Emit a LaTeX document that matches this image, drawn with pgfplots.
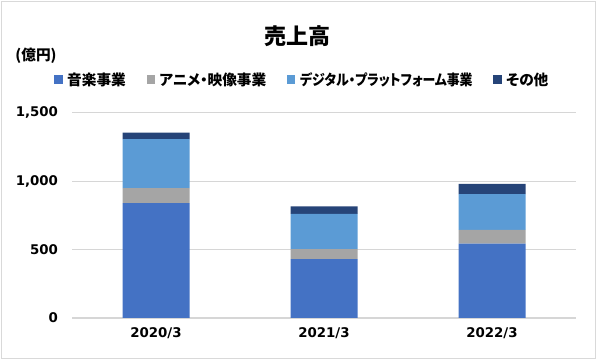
\documentclass[border=0pt]{standalone}
\usepackage{pgfplots}
\pgfplotsset{compat=1.18}
\usepackage{fontspec}
\setmainfont{DejaVu Sans}
\newfontfamily\jp{Noto Sans CJK JP}
\newfontfamily\jpp{Noto Sans CJK JP}[RawFeature=+palt]
\definecolor{cMusic}{HTML}{4472C4}
\definecolor{cAnime}{HTML}{A5A5A5}
\definecolor{cDigital}{HTML}{5B9BD5}
\definecolor{cOther}{HTML}{264478}
\begin{document}
\begin{tikzpicture}
\useasboundingbox (0,0) rectangle (447.75pt,270pt);
\draw[color=black!15, line width=0.75pt] (1.2pt,1.2pt) rectangle (446.5pt,268.8pt);
\node[font=\jp\bfseries\fontsize{16.5}{18}\selectfont] at (223pt,242.5pt) {売上高};
\node[font=\jpp\bfseries\fontsize{11}{13}\selectfont] at (27pt,228.5pt) {(億円)};
\begin{axis}[
  at={(54pt,31.5pt)}, anchor=south west,
  scale only axis, width=378pt, height=154pt,
  ybar stacked, bar width=50.25pt,
  xmin=-0.5, xmax=2.5, ymin=0, ymax=1500,
  xtick={0,1,2}, xticklabels={2020/3,2021/3,2022/3},
  ytick={0,500,1000,1500},
  /pgf/number format/assume math mode=true,
  /pgf/number format/1000 sep={,},
  scaled y ticks=false,
  axis line style={draw=none},
  major tick length=0pt,
  ymajorgrids, major grid style={color=black!16, line width=0.9pt},
  tick label style={font=\bfseries\fontsize{10}{12}\selectfont},
  yticklabel style={xshift=-7pt},
  xticklabel style={yshift=-4pt},
  legend style={at={(-0.0357,1.16)}, anchor=west, draw=none, fill=none,
    legend columns=-1, font=\jpp\bfseries\fontsize{11}{13}\selectfont,
    /tikz/every odd column/.append style={column sep=1.5pt},
    /tikz/every even column/.append style={column sep=13.5pt},
    inner sep=0pt},
  legend image code/.code={\fill[#1] (0pt,-2.8pt) rectangle (6.2pt,3.4pt);},
]
\addplot[fill=cMusic, draw=none] coordinates {(0,839) (1,430) (2,543)};
\addplot[fill=cAnime, draw=none] coordinates {(0,109) (1,74) (2,100)};
\addplot[fill=cDigital, draw=none] coordinates {(0,359) (1,257) (2,262)};
\addplot[fill=cOther, draw=none] coordinates {(0,47) (1,54) (2,75)};
\legend{音楽事業,アニメ・映像事業,\scalebox{0.88}[1]{デジタル・プラットフォーム事業},その他}
\end{axis}
\end{tikzpicture}
\end{document}
